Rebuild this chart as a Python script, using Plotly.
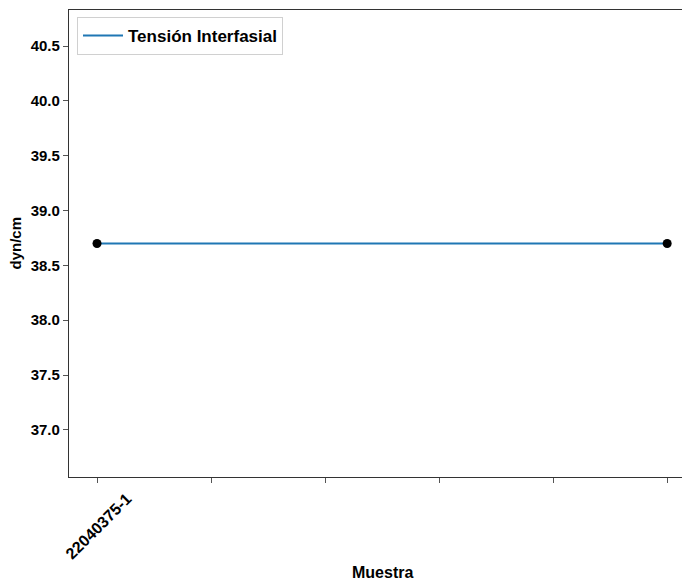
import plotly.graph_objects as go

x_pos = [0, 5]
tension = [38.7, 38.7]
tick_positions = [0, 1, 2, 3, 4, 5]
tick_labels = ["22040375-1", "", "", "", "", ""]
y_ticks = [37.0, 37.5, 38.0, 38.5, 39.0, 39.5, 40.0, 40.5]

# page body has an 8px margin: figure coords = screen coords - 8
W, H = 682, 574
L, T, B = 61, 2, 105
PW = W - L
PH = H - T - B

fig = go.Figure()
fig.add_trace(go.Scatter(x=x_pos, y=tension, mode="lines", name="Tensión Interfasial",
                         line=dict(color="#1f77b4", width=2)))
fig.add_trace(go.Scatter(x=x_pos, y=tension, mode="markers", showlegend=False,
                         marker=dict(color="black", size=9)))

fig.update_layout(
    width=W, height=H,
    margin=dict(l=L, r=0, t=T, b=B, autoexpand=False),
    paper_bgcolor="white", plot_bgcolor="white",
    font=dict(family="Liberation Sans, Arial, sans-serif", size=15, color="black", weight="bold"),
    legend=dict(x=8 / PW, y=1 - 7 / PH, xanchor="left", yanchor="top",
                bgcolor="rgba(255,255,255,0.8)", bordercolor="#d0d0d0", borderwidth=1,
                font=dict(size=17), itemwidth=40),
    xaxis=dict(range=[-0.2456, 5.2], tickvals=tick_positions, ticktext=tick_labels,
               tickangle=-45, showgrid=False, zeroline=False, automargin=False,
               tickfont=dict(size=16), ticklabelshift=30,
               showline=True, linecolor="#333", linewidth=1.2, mirror=True,
               ticks="outside", ticklen=5, tickcolor="#555"),
    yaxis=dict(range=[36.57, 40.83], tickvals=y_ticks, tickformat=".1f",
               showgrid=False, zeroline=False, automargin=False,
               showline=True, linecolor="#333", linewidth=1.2, mirror=False,
               ticks="outside", ticklen=5, tickcolor="#555"),
    annotations=[
        dict(text="Muestra", x=(382 - 69) / PW, y=-(572 - 477) / PH, xref="paper", yref="paper",
             showarrow=False, font=dict(size=16), yanchor="middle"),
        dict(text="dyn/cm", x=-(69 - 15) / PW, y=0.5, xref="paper", yref="paper",
             showarrow=False, font=dict(size=15), textangle=-90, xanchor="center"),
    ],
)

fig.write_html("out.html")
